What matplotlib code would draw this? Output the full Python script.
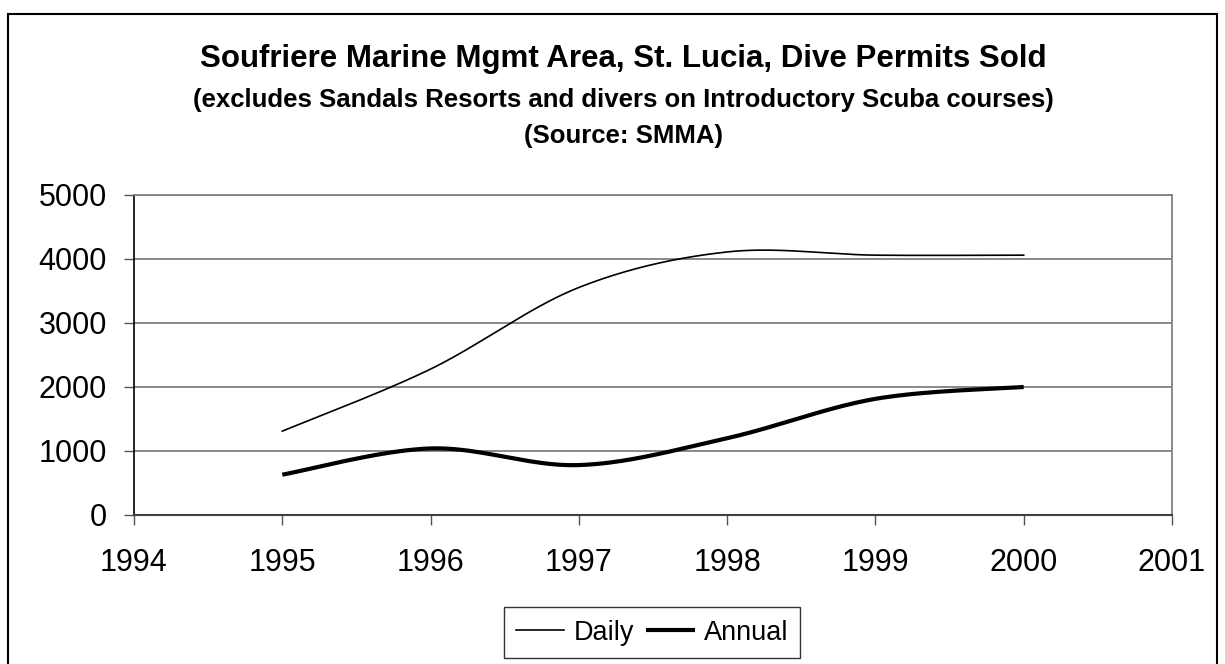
import numpy as np
import matplotlib
matplotlib.use("Agg")
import matplotlib.pyplot as plt
from matplotlib.patches import Rectangle

plt.rcParams['font.family'] = ['Liberation Sans', 'DejaVu Sans']

years = [1995, 1996, 1997, 1998, 1999, 2000]
daily = [1310, 2280, 3555, 4110, 4060, 4060]
annual = [630, 1040, 780, 1200, 1815, 2000]

title = "Soufriere Marine Mgmt Area, St. Lucia, Dive Permits Sold"
subtitle1 = "(excludes Sandals Resorts and divers on Introductory Scuba courses)"
subtitle2 = "(Source: SMMA)"
x_ticks = list(range(1994, 2002))
y_ticks = [0, 1000, 2000, 3000, 4000, 5000]


def smooth(xs, ys, n=40):
    """Excel-style smoothed line (Bezier with Catmull-Rom control points)."""
    P = np.column_stack([xs, ys]).astype(float)
    m = len(P)
    out = []
    for i in range(m - 1):
        p0 = P[i - 1] if i > 0 else P[i]
        p1 = P[i]
        p2 = P[i + 1]
        p3 = P[i + 2] if i + 2 < m else P[i + 1]
        b1 = p1 + (p2 - p0) / 6.0
        b2 = p2 - (p3 - p1) / 6.0
        t = np.linspace(0, 1, n)[:, None]
        seg = ((1 - t) ** 3) * p1 + 3 * ((1 - t) ** 2) * t * b1 + 3 * (1 - t) * t ** 2 * b2 + t ** 3 * p2
        if i > 0:
            seg = seg[1:]
        out.append(seg)
    c = np.vstack(out)
    return c[:, 0], c[:, 1]


fig = plt.figure(figsize=(12.25, 6.64), dpi=100)
ax = fig.add_axes([134 / 1225, 1 - 515 / 664, (1172 - 134) / 1225, (515 - 195) / 664])

# figure border
fig.patches.append(Rectangle((8 / 1225, -0.01), (1217 - 8) / 1225, 1 - 14 / 664 + 0.01,
                             transform=fig.transFigure, fill=False, edgecolor='black',
                             linewidth=1.5, zorder=0))

ax.set_xlim(1994, 2001)
ax.set_ylim(0, 5000)
ax.set_xticks(x_ticks)
ax.set_yticks(y_ticks)
ax.set_xticklabels([str(v) for v in x_ticks])
ax.set_yticklabels([str(v) for v in y_ticks])
ax.tick_params(axis='both', direction='out', length=7.5, width=1, colors='#555555',
               labelsize=22, labelcolor='black')
ax.tick_params(axis='x', pad=16.5)
ax.tick_params(axis='y', pad=12)

for yv in y_ticks[1:]:
    ax.axhline(yv, color='#808080', linewidth=1.3, zorder=1)

for side in ['top', 'right']:
    ax.spines[side].set_color('#808080')
    ax.spines[side].set_linewidth(1.3)
ax.spines['left'].set_color('black')
ax.spines['left'].set_linewidth(1.2)
ax.spines['bottom'].set_color('#404040')
ax.spines['bottom'].set_linewidth(1.5)

dx, dy = smooth(years, daily)
ax.plot(dx, dy, color='black', linewidth=1.2, label='Daily', zorder=3)
axx, axy = smooth(years, annual)
ax.plot(axx, axy, color='black', linewidth=3.0, label='Annual', zorder=3,
        solid_capstyle='butt')

leg = fig.legend(loc='center', bbox_to_anchor=(652 / 1225, 1 - 632.5 / 664), ncol=2,
                 frameon=True, fancybox=False, edgecolor='black', fontsize=19.5,
                 handlelength=1.8, handletextpad=0.33, columnspacing=0.45,
                 borderpad=0.45, borderaxespad=0)
leg.get_frame().set_linewidth(1.0)

fig.text(623 / 1225, 1 - 67 / 664, title, ha='center', va='baseline', fontsize=22.5,
         fontweight='bold')
fig.text(623 / 1225, 1 - 107 / 664, subtitle1, ha='center', va='baseline', fontsize=18.5,
         fontweight='bold')
fig.text(623 / 1225, 1 - 142.5 / 664, subtitle2, ha='center', va='baseline', fontsize=18.5,
         fontweight='bold')

fig.savefig('out.png', dpi=100)
